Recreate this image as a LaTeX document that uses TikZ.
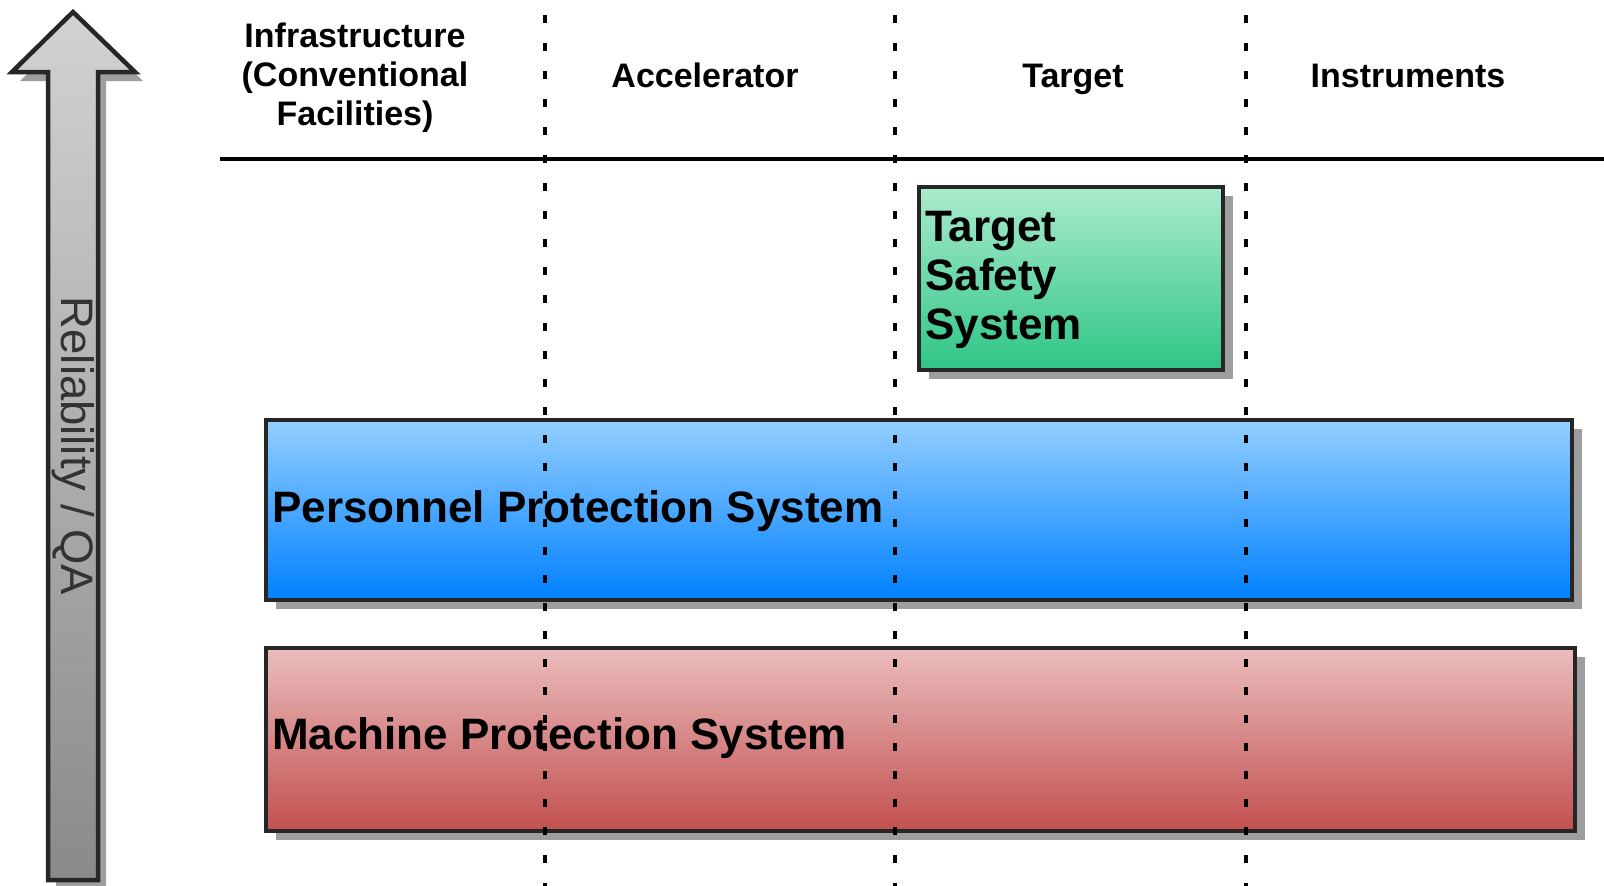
\documentclass[tikz,border=0pt]{standalone}
\usepackage{fontspec}
\setmainfont{Liberation Sans}
\usetikzlibrary{shadows}

\definecolor{tssTop}{HTML}{AAEBCD}
\definecolor{tssBot}{HTML}{2EC586}
\definecolor{ppsTop}{HTML}{94CFFF}
\definecolor{ppsBot}{HTML}{0080FF}
\definecolor{mpsTop}{HTML}{EBBDBD}
\definecolor{mpsBot}{HTML}{C24F4F}
\definecolor{arrTop}{HTML}{D2D2D2}
\definecolor{arrBot}{HTML}{8A8A8A}

\tikzset{
    boxshadow/.style={drop shadow={shadow xshift=10pt, shadow yshift=-9pt, fill=black!38, opacity=1}},
    sysbox/.style={draw=black!85, line width=4pt, anchor=north west, inner sep=0pt, boxshadow},
    syslabel/.style={font=\fontsize{44}{49}\selectfont\bfseries, align=left, inner sep=0pt},
    colhead/.style={font=\fontsize{34}{39}\selectfont\bfseries, align=center},
    divider/.style={line width=4pt, dash pattern=on 8pt off 20pt, dash phase=-15pt},
}

\begin{document}
\begin{tikzpicture}[x=1pt, y=-1pt]
\useasboundingbox (0,0) rectangle (1604,886);

% reliability arrow
\draw[line width=4.5pt, draw=black!85, top color=arrTop, bottom color=arrBot,
      drop shadow={shadow xshift=8pt, shadow yshift=-9pt, fill=black!38, opacity=1}]
    (73,12) -- (135,72) -- (98,72) -- (98,880) -- (48,880) -- (48,72) -- (12,72) -- cycle;
\node[rotate=-90, font=\fontsize{45.5}{45.5}\selectfont, text=black!80] (rqa) at (73,446) {Reliability / QA};

% column headings
\node[colhead] (infra) at (355,78) {Infrastructure\\(Conventional\\Facilities)};
\node[colhead, anchor=base] (accel) at (705,87) {Accelerator};
\node[colhead, anchor=base] (targ) at (1073,87) {Target};
\node[colhead, anchor=base] (instr) at (1408,87) {Instruments};
\draw[line width=4pt] (220,159) -- (1604,159);

% nodes
\node[sysbox, top color=tssTop, bottom color=tssBot, minimum width=304, minimum height=183] (tss) at (917,185) {};
\node[syslabel, anchor=north west] (tsstext) at (925,211) {Target\\Safety\\System};

\node[sysbox, top color=ppsTop, bottom color=ppsBot, minimum width=1306, minimum height=180] (pps) at (264,418) {};
\node[syslabel, anchor=west] (ppstext) at (272,511) {Personnel Protection System};

\node[sysbox, top color=mpsTop, bottom color=mpsBot, minimum width=1309, minimum height=183] (mps) at (264,646) {};
\node[syslabel, anchor=west] (mpstext) at (272,738) {Machine Protection System};

% column dividers
\foreach \x in {545, 895, 1246}
{
    \draw[divider] (\x,0) -- (\x,886);
}

\end{tikzpicture}
\end{document}
